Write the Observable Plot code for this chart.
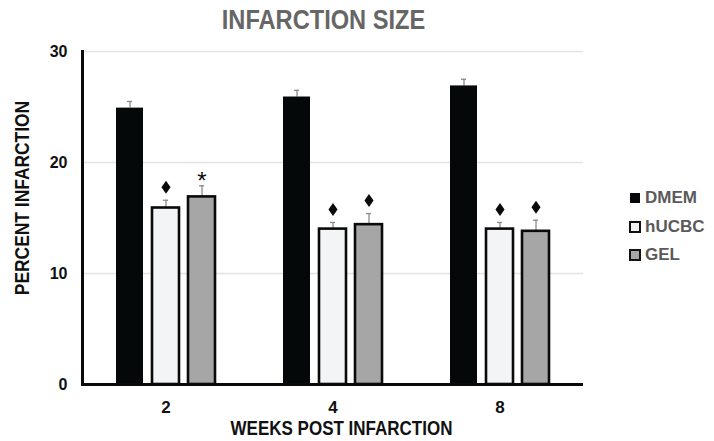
<!DOCTYPE html>
<html>
<head>
<meta charset="utf-8">
<script src="https://cdn.jsdelivr.net/npm/d3@7"></script>
<script src="https://cdn.jsdelivr.net/npm/@observablehq/plot@0.6"></script>
<style>
  body { margin: 0; background: #fff; }
  #wrap { position: relative; width: 714px; height: 441px; overflow: hidden; }
  .narrow { font-family: "Liberation Sans", Arial, sans-serif; font-weight: bold; }
  #title { position: absolute; left: 0; width: 647px; top: 5px; text-align: center; font-size: 27px; color: #666; transform: scaleX(0.875); transform-origin: 323.5px 0; }
  #xtitle { position: absolute; left: 0; width: 683px; top: 416px; text-align: center; font-size: 20px; line-height: 24px; color: #111; transform: scaleX(0.85); transform-origin: 341.5px 0; }
  #ytitle { position: absolute; left: 22px; top: 198px; transform: translate(-50%, -50%) rotate(-90deg) scaleX(0.87); white-space: nowrap; font-size: 20px; line-height: 22px; color: #111; }
  #legend { position: absolute; left: 629px; top: 184px; font-family: "Liberation Sans", Arial, sans-serif; font-weight: bold; font-size: 17px; color: #5a5a5a; }
  #legend .item { display: flex; align-items: center; height: 28.5px; }
  #legend .sw { box-sizing: border-box; }
</style>
</head>
<body>
<div id="wrap">
  <div id="title" class="narrow">INFARCTION SIZE</div>
  <div id="chart"></div>
  <div id="ytitle" class="narrow">PERCENT INFARCTION</div>
  <div id="xtitle" class="narrow">WEEKS POST INFARCTION</div>
  <div id="legend"></div>
</div>
<script>
const weeks = ["2", "4", "8"];
const groups = ["DMEM", "hUCBC", "GEL"];
const dmem = [24.9, 25.9, 26.9];
const dmemErr = [0.6, 0.6, 0.6];
const hucbc = [15.9, 14.0, 14.0];
const hucbcErr = [0.7, 0.6, 0.6];
const gel = [16.9, 14.4, 13.8];
const gelErr = [1.0, 1.0, 1.0];
const dmemSig = ["", "", ""];
const hucbcSig = ["♦", "♦", "♦"];
const gelSig = ["*", "♦", "♦"];
const yTicks = [0, 10, 20, 30];
const fills = ["#050809", "#f3f4f6", "#a6a6a6"];

const series = {DMEM: [dmem, dmemErr, dmemSig], hUCBC: [hucbc, hucbcErr, hucbcSig], GEL: [gel, gelErr, gelSig]};
const data = [];
weeks.forEach((w, i) => groups.forEach(g => {
  const [v, e, s] = series[g];
  data.push({week: w, group: g, value: v[i], err: e[i], top: v[i] + e[i], sig: s[i]});
}));

// tall narrow diamond glyph
const tallDiamond = {
  draw(context, size) {
    const r = Math.sqrt(size / Math.PI);
    const w = r * 0.7;
    context.moveTo(0, -r);
    context.lineTo(w, 0);
    context.lineTo(0, r);
    context.lineTo(-w, 0);
    context.closePath();
  }
};

const chart = Plot.plot({
  width: 714,
  height: 441,
  marginLeft: 81,
  marginRight: 131,
  marginTop: 51,
  marginBottom: 57,
  style: {fontFamily: "'Liberation Sans', sans-serif", color: "#111", background: "transparent"},
  fx: {domain: weeks, padding: 0, label: null},
  x: {domain: groups, paddingInner: 0.238, paddingOuter: 0.8955, axis: null},
  y: {domain: [0, 30], axis: null},
  color: {domain: groups, range: fills},
  marks: [
    Plot.gridY(yTicks.filter(t => t > 0), {stroke: "#e3e3e3", strokeOpacity: 1, strokeWidth: 1.5}),
    Plot.ruleX(data, {fx: "week", x: "group", y1: "value", y2: "top", stroke: "#8a8a8a", strokeWidth: 1.3}),
    Plot.tickY(data, {fx: "week", x: "group", y: "top", stroke: "#8a8a8a", strokeWidth: 1.3, insetLeft: 11, insetRight: 11}),
    Plot.barY(data.filter(d => d.group === "DMEM"), {fx: "week", x: "group", y: "value", fill: "group"}),
    Plot.barY(data.filter(d => d.group !== "DMEM"), {fx: "week", x: "group", y: "value", fill: "group", stroke: "#0a0a0a", strokeWidth: 2.6}),
    Plot.dot(data.filter(d => d.sig === "♦"), {fx: "week", x: "group", y: "top", symbol: tallDiamond, r: 6.5, dy: -13, fill: "#0a0a0a", stroke: "none"}),
    Plot.text(data.filter(d => d.sig === "*"), {fx: "week", x: "group", y: "top", text: "sig", dy: -4, fontSize: 24, fill: "#0a0a0a", fontFamily: "Liberation Sans"}),
    Plot.ruleY([0], {stroke: "#0a0a0a", strokeWidth: 3}),
    Plot.frame({anchor: "left", facetAnchor: "left", stroke: "#0a0a0a", strokeWidth: 3}),
    Plot.axisY(yTicks, {anchor: "left", tickSize: 0, tickPadding: 15, fontSize: 16, fontWeight: "bold", label: null}),
    Plot.axisFx({anchor: "bottom", tickSize: 0, tickPadding: 16, fontSize: 17, fontWeight: "bold", label: null})
  ]
});
document.getElementById("chart").appendChild(chart);

const legend = document.getElementById("legend");
groups.forEach((g, i) => {
  const item = document.createElement("div");
  item.className = "item";
  const sw = document.createElement("div");
  sw.className = "sw";
  sw.style.background = fills[i];
  if (i === 0) {
    sw.style.width = "10px"; sw.style.height = "10px"; sw.style.margin = "0 5px 0 1px";
  } else {
    sw.style.width = "12px"; sw.style.height = "12px"; sw.style.border = "2.5px solid #111"; sw.style.marginRight = "4px";
  }
  const t = document.createElement("span");
  t.textContent = g;
  item.appendChild(sw);
  item.appendChild(t);
  legend.appendChild(item);
});
</script>
</body>
</html>
